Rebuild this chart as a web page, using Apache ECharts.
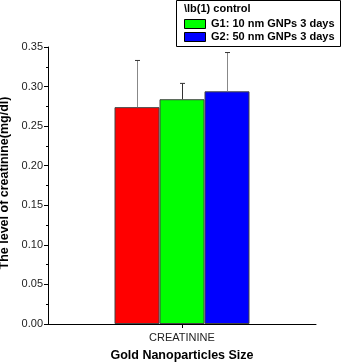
<!DOCTYPE html>
<html>
<head>
<meta charset="utf-8">
<script src="https://cdn.jsdelivr.net/npm/echarts@6/dist/echarts.min.js"></script>
<style>
  html, body { margin: 0; padding: 0; background: #fff; }
  #chart { width: 341px; height: 364px; }
</style>
</head>
<body>
<div id="chart"></div>
<script>
// data
const categories = ['CREATININE']
const seriesNames = ['\\lb(1) control', 'G1: 10 nm GNPs 3 days', 'G2: 50 nm GNPs 3 days']
const meanValues = [0.274, 0.284, 0.294]
const errorValues = [0.059, 0.020, 0.049]
const yTicks = [0, 0.35, 0.05]

const barColors = ['#ff0000', '#00ff00', '#0000ff']
const errColors = ['#888888', '#333333', '#888888']
const barW = 45

const myChart = echarts.init(document.getElementById('chart'))

const barSeries = meanValues.map((v, i) => ({
  name: seriesNames[i],
  type: 'bar',
  data: [v],
  barWidth: barW,
  barGap: 0,
  itemStyle: { color: barColors[i], borderColor: '#444', borderWidth: 1 },
  silent: true
}))

// error bars (upper half only, like the original)
const errSeries = {
  type: 'custom',
  silent: true,
  data: meanValues.map((v, i) => [0, v, v + errorValues[i], i]),
  renderItem: (params, api) => {
    const idx = api.value(3)
    const base = api.coord([api.value(0), api.value(1)])
    const top = api.coord([api.value(0), api.value(2)])
    const x = Math.round(base[0] + (idx - 1) * barW) + 0.5
    return {
      type: 'group',
      children: [
        { type: 'line', shape: { x1: x, y1: base[1], x2: x, y2: top[1] },
          style: { stroke: errColors[idx], lineWidth: 1 } },
        { type: 'line', shape: { x1: x - 2.5, y1: top[1], x2: x + 2.5, y2: top[1] },
          style: { stroke: '#333', lineWidth: 1 } }
      ]
    }
  },
  z: 5
}

const fontFam = 'Liberation Sans, Arial, sans-serif'

const option = {
  animation: false,
  grid: { left: 48, right: 25, top: 47, bottom: 40, outerBoundsMode: 'none', containLabel: false },
  xAxis: {
    type: 'category',
    data: categories,
    name: 'Gold Nanoparticles Size',
    nameLocation: 'middle',
    nameGap: 25,
    nameTextStyle: { fontFamily: fontFam, fontWeight: 'bold', fontSize: 12.5, color: '#000' },
    axisLine: { lineStyle: { color: '#000', width: 1 } },
    axisTick: { show: true, alignWithLabel: true, length: 4, lineStyle: { color: '#000' } },
    axisLabel: { fontFamily: fontFam, fontSize: 11, color: '#222', margin: 8 },
    splitLine: { show: false }
  },
  yAxis: {
    type: 'value',
    min: yTicks[0],
    max: yTicks[1],
    interval: yTicks[2],
    name: 'The level of creatinine(mg/dl)',
    nameLocation: 'middle',
    nameGap: 36,
    nameTextStyle: { fontFamily: fontFam, fontWeight: 'bold', fontSize: 12.5, color: '#000', padding: [0, 0, 0, 5] },
    axisLine: { show: true, lineStyle: { color: '#000', width: 1 } },
    axisTick: { show: true, length: 4, lineStyle: { color: '#000' } },
    minorTick: { show: true, splitNumber: 2, length: 2, lineStyle: { color: '#000' } },
    axisLabel: {
      fontFamily: fontFam, fontSize: 11, color: '#222', margin: 5,
      formatter: (v) => v.toFixed(2)
    },
    splitLine: { show: false }
  },
  series: [...barSeries, errSeries],
  graphic: [
    { type: 'rect', shape: { x: 176.5, y: 0.5, width: 164, height: 46 },
      style: { fill: '#fff', stroke: '#000', lineWidth: 1 } },
    { type: 'text', x: 184, y: 9, style: { text: seriesNames[0], fill: '#000',
      font: 'bold 11px ' + fontFam, verticalAlign: 'middle' } },
    { type: 'rect', shape: { x: 184.5, y: 19.5, width: 21, height: 9 },
      style: { fill: barColors[1], stroke: '#000', lineWidth: 1 } },
    { type: 'text', x: 211, y: 23.5, style: { text: seriesNames[1], fill: '#000',
      font: 'bold 11px ' + fontFam, verticalAlign: 'middle' } },
    { type: 'rect', shape: { x: 184.5, y: 32.5, width: 21, height: 9 },
      style: { fill: barColors[2], stroke: '#000', lineWidth: 1 } },
    { type: 'text', x: 211, y: 37, style: { text: seriesNames[2], fill: '#000',
      font: 'bold 11px ' + fontFam, verticalAlign: 'middle' } }
  ]
}

myChart.setOption(option)
</script>
</body>
</html>
